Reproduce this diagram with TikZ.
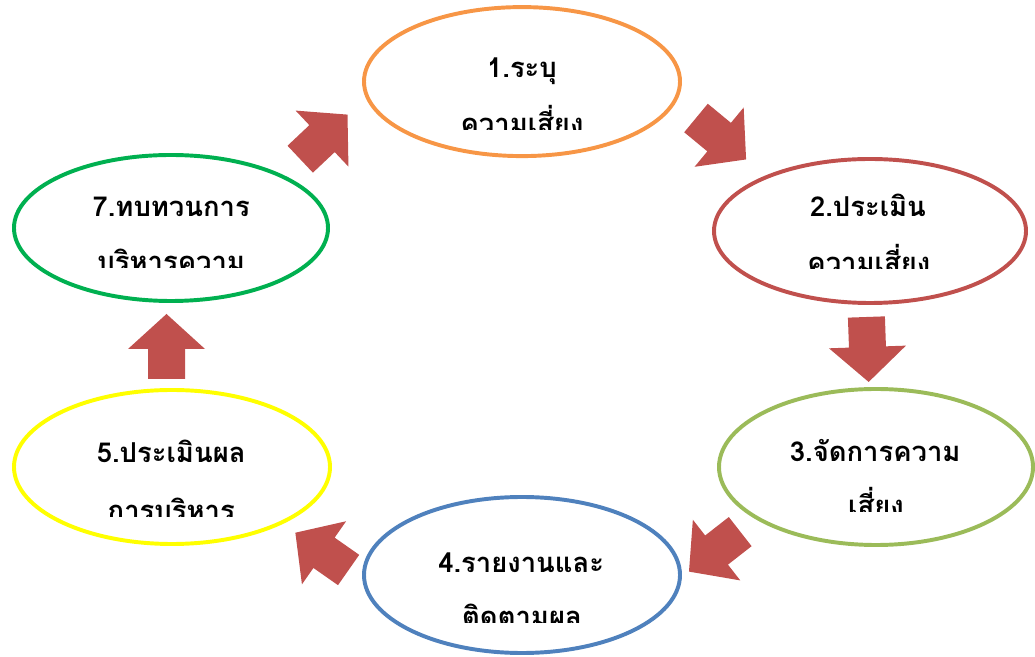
\documentclass[tikz,border=0pt]{standalone}
\usepackage{fontspec}
\usetikzlibrary{shapes.geometric}
\newfontfamily\thaifont[Script=Thai]{Loma}

\definecolor{stageorange}{HTML}{F79646}
\definecolor{stagered}{HTML}{C0504D}
\definecolor{stageolive}{HTML}{9BBB59}
\definecolor{stageblue}{HTML}{4F81BD}
\definecolor{stageyellow}{HTML}{FFFF00}
\definecolor{stagegreen}{HTML}{00B050}
\definecolor{arrred}{HTML}{C0504D}

% block arrow: back centre x, back centre y, direction
\newcommand{\blockarrow}[3]{%
  \fill[blockarr, shift={(#1,#2)}, rotate=#3]
    (0,-0.4625) -- (0.75,-0.4625) -- (0.75,-0.9625) -- (1.625,0)
    -- (0.75,0.9625) -- (0.75,0.4625) -- (0,0.4625) -- cycle;}

\begin{document}
\begin{tikzpicture}[
  stage/.style={draw, ellipse, line width=2.8pt, inner sep=0pt},
  lbl/.style={font=\thaifont\bfseries\fontsize{19.5}{24}\selectfont, anchor=base, inner sep=0pt},
  blockarr/.style={fill=arrred}
]
 \useasboundingbox (0,0) rectangle (25.875,16.4);

 % the six stages
 \node[stage, draw=stageorange, minimum width=7.9cm, minimum height=3.725cm] (s1) at (13.05,14.36) {};
 \node[stage, draw=stagered, minimum width=7.8cm, minimum height=3.6cm] (s2) at (21.75,10.625) {};
 \node[stage, draw=stageolive, minimum width=7.85cm, minimum height=3.9cm] (s3) at (21.9,4.725) {};
 \node[stage, draw=stageblue, minimum width=7.9cm, minimum height=3.9cm] (s4) at (13.05,2.025) {};
 \node[stage, draw=stageyellow, minimum width=7.9cm, minimum height=3.85cm] (s5) at (4.3,4.725) {};
 \node[stage, draw=stagegreen, minimum width=7.85cm, minimum height=3.65cm] (s7) at (4.275,10.7) {};

 % labels, second line cut off
 \node[lbl] (t1a) at (13.05,14.45) {1.ระบุ};
 \begin{scope}
  \clip (9,13.15) rectangle (17,16.4);
  \node[lbl] (t1b) at (13.05,13.05) {ความเสี่ยง};
 \end{scope}

 \node[lbl] (t2a) at (21.7,10.975) {2.ประเมิน};
 \begin{scope}
  \clip (17.8,9.675) rectangle (25.8,12.5);
  \node[lbl] (t2b) at (21.72,9.575) {ความเสี่ยง};
 \end{scope}

 \node[lbl] (t3a) at (21.88,4.85) {3.จัดการความ};
 \begin{scope}
  \clip (17.9,3.6) rectangle (25.875,6.7);
  \node[lbl] (t3b) at (21.9,3.5) {เสี่ยง};
 \end{scope}

 \node[lbl] (t4a) at (13.03,2.1) {4.รายงานและ};
 \begin{scope}
  \clip (9,0.85) rectangle (17,4);
  \node[lbl] (t4b) at (13.05,0.75) {ติดตามผล};
 \end{scope}

 \node[lbl] (t5a) at (4.28,4.825) {5.ประเมินผล};
 \begin{scope}
  \clip (0.3,3.475) rectangle (8.3,6.7);
  \node[lbl] (t5b) at (4.28,3.375) {การบริหาร};
 \end{scope}

 \node[lbl] (t7a) at (4.28,10.975) {7.ทบทวนการ};
 \begin{scope}
  \clip (0.3,9.7) rectangle (8.3,12.6);
  \node[lbl] (t7b) at (4.28,9.6) {บริหารความ};
 \end{scope}

 % arrows round the cycle
 \blockarrow{17.40}{13.45}{-39.6}
 \blockarrow{21.66}{8.475}{-88}
 \blockarrow{18.505}{3.11}{218}
 \blockarrow{8.715}{2.15}{145}
 \blockarrow{4.1625}{6.925}{90}
 \blockarrow{7.505}{12.42}{43.3}
\end{tikzpicture}
\end{document}
